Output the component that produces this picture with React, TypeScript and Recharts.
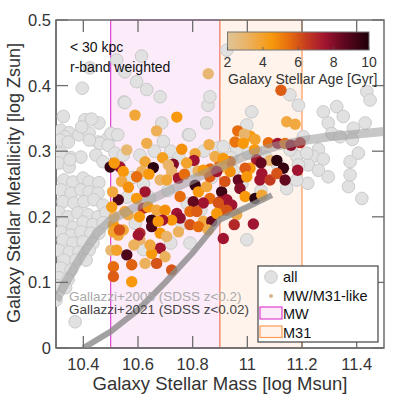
import { ScatterChart, Scatter, XAxis, YAxis, ReferenceArea } from 'recharts';

// "all" galaxies (grey)
const allMass = [
  10.318, 10.348, 10.384, 10.421, 10.457, 10.454, 10.49, 10.512, 10.318, 10.355, 10.391, 10.446, 10.472, 10.311, 10.348,
  10.329, 10.362, 10.399, 10.421, 10.457, 10.318, 10.355, 10.391, 10.421, 10.454, 10.326, 10.366, 10.402, 10.439, 10.472,
  10.311, 10.344, 10.38, 10.417, 10.454, 10.483, 10.326, 10.362, 10.399, 10.435, 10.472, 10.318, 10.355, 10.391, 10.428,
  10.457, 10.326, 10.362, 10.399, 10.435, 10.311, 10.348, 10.384, 10.421, 10.329, 10.373, 10.41, 10.318, 10.355, 10.311,
  10.344, 10.3, 10.37, 10.305, 10.335,
  10.613, 10.522, 10.552, 10.424, 10.595, 10.632, 10.681, 10.396, 10.549, 10.327, 10.406, 10.43, 10.394, 10.333, 10.315,
  10.345, 10.461, 10.491, 10.422, 10.351, 10.516, 10.693, 10.784, 10.717,
  10.552, 10.856, 10.687, 10.851, 10.788, 10.607, 10.546, 10.893, 10.79, 10.501, 10.526,
  10.863, 10.925, 11.016, 10.998, 11.187, 11.156, 11.278, 11.327, 11.437, 11.449,
  11.351, 11.296, 11.388, 11.431, 11.309, 11.339, 11.384, 11.205, 11.26, 11.241, 11.278, 11.406, 11.376, 11.223, 11.26,
  11.296, 11.181, 11.221, 11.181, 11.144, 11.37, 11.419, 10.998, 11.162, 11.187, 11.217, 11.156, 10.912, 10.961, 11.004,
  11.376,
  10.58, 10.62, 10.66, 10.72, 10.75, 10.8, 10.84, 10.87, 10.94, 11.03, 11.07, 11.11, 10.56, 10.64, 10.71, 10.78, 10.83,
  10.59, 10.72, 10.76, 10.62, 10.98, 11.05, 10.95,
];
const allZ = [
  0.332, 0.328, 0.325, 0.328, 0.343, 0.314, 0.32, 0.325, 0.297, 0.29, 0.291, 0.294, 0.284, 0.282, 0.276,
  0.256, 0.253, 0.259, 0.253, 0.252, 0.241, 0.236, 0.241, 0.238, 0.236, 0.223, 0.221, 0.223, 0.226, 0.218,
  0.207, 0.2, 0.206, 0.203, 0.2, 0.206, 0.191, 0.184, 0.192, 0.188, 0.191, 0.177, 0.172, 0.177, 0.175,
  0.175, 0.165, 0.16, 0.162, 0.16, 0.149, 0.146, 0.146, 0.149, 0.134, 0.134, 0.134, 0.122, 0.119, 0.107,
  0.104, 0.073, 0.04, 0.095, 0.092,
  0.445, 0.439, 0.421, 0.427, 0.406, 0.394, 0.383, 0.396, 0.375, 0.353, 0.348, 0.349, 0.337, 0.322, 0.317,
  0.314, 0.312, 0.309, 0.317, 0.287, 0.297, 0.315, 0.325, 0.282,
  0.374, 0.37, 0.343, 0.343, 0.325, 0.294, 0.294, 0.305, 0.16, 0.327, 0.325,
  0.383, 0.454, 0.36, 0.34, 0.37, 0.386, 0.36, 0.368, 0.391, 0.378,
  0.353, 0.343, 0.335, 0.343, 0.327, 0.322, 0.318, 0.322, 0.303, 0.292, 0.288, 0.297, 0.284, 0.279, 0.271,
  0.261, 0.292, 0.251, 0.256, 0.243, 0.246, 0.228, 0.165, 0.307, 0.279, 0.297, 0.302, 0.307, 0.302, 0.297,
  0.264,
  0.26, 0.25, 0.3, 0.3, 0.29, 0.27, 0.3, 0.26, 0.29, 0.3, 0.29, 0.28, 0.23, 0.23, 0.24, 0.22, 0.21,
  0.19, 0.16, 0.19, 0.15, 0.25, 0.24, 0.27,
];

// MW/M31-like galaxies, coloured by stellar age [Gyr]
const likeMass = [
  10.589, 10.742, 10.668, 10.632, 10.559, 10.76, 10.809, 10.498, 10.534, 10.513, 10.626, 10.656, 10.729, 10.805, 10.778,
  10.546, 10.614, 10.595, 10.723, 10.681, 10.705, 10.54, 10.748, 10.626, 10.809, 10.821, 10.851, 10.863, 10.839, 10.802,
  10.754, 10.79, 10.528, 10.595, 10.552, 10.619, 10.637, 10.668, 10.699, 10.742, 10.754, 10.723, 10.65, 10.79, 10.839,
  10.87, 10.51, 10.546, 10.607, 10.681, 10.748, 10.607, 10.681, 10.65, 10.559, 10.699, 10.626, 10.668, 10.577, 10.723,
  10.51, 10.51, 10.577, 10.501, 10.528, 10.51, 10.601, 10.644, 10.65, 10.705, 10.821, 10.9, 10.906, 10.9, 10.912,
  10.912, 11.144, 11.175, 10.965, 11.01, 10.989, 10.955, 10.985, 11.028, 11.077, 11.111, 11.138, 11.16, 11.193, 11.026,
  11.083, 11.108, 11.132, 11.184, 11.034, 11.05, 11.01, 11.053, 11.046, 11.083, 11.108, 11.138, 10.992, 10.937, 10.937,
  10.906, 10.967, 10.998, 10.918, 10.973, 10.925, 10.943, 10.992, 11.028, 11.053, 10.894, 10.925, 10.961, 10.952, 11.022,
  11.123, 10.857, 10.882, 10.912, 10.864, 10.507, 10.513, 10.605, 10.532, 10.69, 10.585, 10.565, 10.64, 10.69, 10.77,
  10.82, 10.86, 10.504, 10.564, 10.522, 10.711, 10.839, 10.863, 10.888, 10.674, 10.815, 10.888, 10.857,
];
const likeZ = [
  0.355, 0.352, 0.331, 0.312, 0.302, 0.303, 0.296, 0.276, 0.276, 0.282, 0.284, 0.275, 0.28, 0.286, 0.282,
  0.269, 0.269, 0.261, 0.269, 0.256, 0.256, 0.254, 0.259, 0.238, 0.248, 0.238, 0.246, 0.228, 0.221, 0.223,
  0.231, 0.208, 0.226, 0.228, 0.208, 0.213, 0.215, 0.21, 0.21, 0.205, 0.198, 0.195, 0.195, 0.188, 0.193,
  0.193, 0.188, 0.18, 0.175, 0.175, 0.177, 0.165, 0.152, 0.144, 0.142, 0.139, 0.129, 0.129, 0.127, 0.119,
  0.124, 0.109, 0.101, 0.149, 0.172, 0.177, 0.172, 0.157, 0.185, 0.17, 0.185, 0.282, 0.238, 0.223, 0.21,
  0.167, 0.345, 0.341, 0.331, 0.323, 0.326, 0.314, 0.312, 0.318, 0.313, 0.312, 0.312, 0.309, 0.313, 0.302,
  0.286, 0.286, 0.274, 0.271, 0.287, 0.282, 0.274, 0.266, 0.256, 0.256, 0.266, 0.256, 0.274, 0.284, 0.269,
  0.276, 0.256, 0.261, 0.254, 0.243, 0.226, 0.218, 0.231, 0.228, 0.233, 0.221, 0.21, 0.203, 0.188, 0.189,
  0.393, 0.418, 0.292, 0.289, 0.273, 0.238, 0.2, 0.2, 0.18, 0.195, 0.157, 0.245, 0.265, 0.29, 0.265,
  0.27, 0.31, 0.215, 0.203, 0.149, 0.279, 0.271, 0.261, 0.269, 0.193, 0.208, 0.205, 0.18,
];
const likeAge = [
  3.8, 4.5, 3.3, 3.5, 2.8, 4.7, 3.8, 9.5, 7.5, 4.5, 3.8, 9.7, 8.0, 7.5, 4.0,
  4.5, 3.3, 5.5, 3.0, 3.0, 3.8, 3.7, 7.5, 7.5, 9.5, 4.5, 3.7, 5.5, 7.5, 8.5,
  5.5, 5.5, 9.0, 4.5, 3.7, 7.0, 4.5, 3.7, 4.7, 7.5, 7.8, 4.5, 9.5, 6.0, 3.7,
  8.5, 4.5, 3.7, 7.0, 4.5, 3.2, 3.0, 7.5, 4.5, 9.0, 3.2, 3.2, 6.0, 5.7, 6.0,
  5.5, 5.8, 4.5, 2.8, 3.7, 4.0, 7.5, 3.7, 9.0, 3.0, 5.5, 5.5, 9.3, 7.5, 5.5,
  7.5, 3.7, 3.7, 5.5, 4.5, 3.0, 5.3, 4.5, 4.0, 5.5, 7.5, 5.5, 7.8, 7.0, 4.5,
  3.0, 9.7, 9.5, 7.5, 7.3, 8.5, 4.5, 7.5, 7.5, 6.5, 6.0, 8.5, 5.8, 5.5, 4.7,
  3.8, 8.5, 4.5, 6.0, 8.0, 7.5, 7.5, 4.5, 9.7, 3.8, 6.0, 6.0, 3.5, 7.0, 7.5,
  5.8, 2.8, 3.5, 4.5, 5.5, 3.7, 3.0, 4.5, 6.0, 7.5, 3.2, 4.7, 4.5, 4.2, 5.5,
  3.2, 3.5, 4.3, 3.6, 4.0, 3.0, 4.5, 5.8, 7.5, 4.5, 5.8, 4.5, 3.5,
];

// literature relations
const g05Mass = [10.3, 10.35, 10.4, 10.45, 10.5, 10.6, 10.7, 10.8, 10.9, 11.0, 11.1, 11.2, 11.3, 11.4, 11.5];
const g05Z = [0.073, 0.11, 0.145, 0.175, 0.195, 0.217, 0.237, 0.257, 0.276, 0.294, 0.307, 0.316, 0.322, 0.326, 0.33];
const g21Mass = [10.4, 10.5, 10.6, 10.7, 10.8, 10.9, 11.0, 11.09];
const g21Z = [0, 0.025, 0.058, 0.1, 0.145, 0.196, 0.215, 0.233];

const massTicks = [10.4, 10.6, 10.8, 11, 11.2, 11.4];
const zTicks = [0, 0.1, 0.2, 0.3, 0.4, 0.5];
const ageTicks = [2, 4, 6, 8, 10];

const FONT = '"Liberation Sans", Arial, Helvetica, sans-serif';
const AXIS = '#6e6e6e';
const TXT = '#333';
const PLOT_W = 328;
const PLOT_H = 328;
const TICK = 12;

const AGE_STOPS: [number, number[]][] = [
  [2, [222, 196, 150]],
  [3, [234, 181, 106]],
  [4.5, [248, 153, 12]],
  [5.5, [230, 108, 14]],
  [6.5, [196, 58, 32]],
  [7.5, [160, 20, 48]],
  [8.5, [100, 8, 32]],
  [10, [30, 0, 10]],
];

function ageColor(a: number) {
  if (a <= AGE_STOPS[0][0]) return `rgb(${AGE_STOPS[0][1].join(',')})`;
  for (let i = 1; i < AGE_STOPS.length; i++) {
    const [a1, c1] = AGE_STOPS[i];
    const [a0, c0] = AGE_STOPS[i - 1];
    if (a <= a1) {
      const t = (a - a0) / (a1 - a0);
      const c = c0.map((v, k) => Math.round(v + (c1[k] - v) * t));
      return `rgb(${c.join(',')})`;
    }
  }
  return `rgb(${AGE_STOPS[AGE_STOPS.length - 1][1].join(',')})`;
}

const allPts = allMass.map((x, i) => ({ x, y: allZ[i] }));
const likePts = likeMass.map((x, i) => ({ x, y: likeZ[i], age: likeAge[i] }));
const g05 = g05Mass.map((x, i) => ({ x, y: g05Z[i] }));
const g21 = g21Mass.map((x, i) => ({ x, y: g21Z[i] }));

function MassTick({ x, y, payload }: any) {
  return (
    <g>
      <line x1={x} x2={x} y1={y} y2={y - TICK} stroke={AXIS} strokeWidth={1.3} />
      <line x1={x} x2={x} y1={y - PLOT_H} y2={y - PLOT_H + TICK} stroke={AXIS} strokeWidth={1.3} />
      <text x={x} y={y + 22} textAnchor="middle" fontSize={16.5} fill={TXT} fontFamily={FONT}>
        {String(payload.value)}
      </text>
    </g>
  );
}

function ZTick({ x, y, payload }: any) {
  return (
    <g>
      <line x1={x} x2={x + TICK} y1={y} y2={y} stroke={AXIS} strokeWidth={1.3} />
      <line x1={x + PLOT_W} x2={x + PLOT_W - TICK} y1={y} y2={y} stroke={AXIS} strokeWidth={1.3} />
      <text x={x - 5} y={y + 6} textAnchor="end" fontSize={16.5} fill={TXT} fontFamily={FONT}>
        {String(payload.value)}
      </text>
    </g>
  );
}

const GrayDot = (p: any) => <circle cx={p.cx} cy={p.cy} r={6.3} fill="#e1e1e1" stroke="#cacaca" strokeWidth={1} />;
const AgeDot = (p: any) => <circle cx={p.cx} cy={p.cy} r={5.7} fill={ageColor(p.payload.age)} />;
const NoDot = () => <g />;

function Overlay() {
  const cbX = 227.5;
  const cbW = 141.5;
  const ageX = (a: number) => cbX + ((a - 2) / 8) * cbW;
  return (
    <svg width={395} height={402} style={{ position: 'absolute', left: 0, top: 0, pointerEvents: 'none' }} fontFamily={FONT}>
      <defs>
        <linearGradient id="agegrad" x1="0" x2="1" y1="0" y2="0">
          {AGE_STOPS.map(([a, c]) => (
            <stop key={a} offset={(a - 2) / 8} stopColor={`rgb(${c.join(',')})`} />
          ))}
        </linearGradient>
      </defs>
      <text x={70} y={52} fontSize={14} fill="#111">&lt; 30 kpc</text>
      <text x={70} y={72} fontSize={14} fill="#111">r-band weighted</text>

      <rect x={cbX} y={32} width={cbW} height={18} fill="url(#agegrad)" stroke="#777" strokeWidth={1} />
      {ageTicks.map((a) => (
        <g key={a}>
          <line x1={ageX(a)} x2={ageX(a)} y1={50} y2={47} stroke="#555" strokeWidth={0.8} />
          <text x={ageX(a)} y={67} fontSize={14} textAnchor="middle" fill={TXT}>{a}</text>
        </g>
      ))}
      <text x={228} y={84} fontSize={14} fill={TXT}>Galaxy Stellar Age [Gyr]</text>

      <text x={69} y={300.5} fontSize={13.5} fill="#aaaaaa">Gallazzi+2005 (SDSS z&lt;0.2)</text>
      <text x={69} y={314} fontSize={13.5} fill="#444">Gallazzi+2021 (SDSS z&lt;0.02)</text>

      <rect x={258} y={266} width={120} height={76} fill="#fff" stroke="#444" strokeWidth={1.2} />
      <circle cx={271} cy={277} r={6.3} fill="#e1e1e1" stroke="#cacaca" strokeWidth={1} />
      <text x={283} y={282} fontSize={14.5} fill="#111">all</text>
      <circle cx={271} cy={296} r={2} fill="#d8b68a" />
      <text x={283} y={301} fontSize={14.5} fill="#111">MW/M31-like</text>
      <rect x={260} y={307} width={22} height={12} fill="#fcecf9" stroke="#e040d0" strokeWidth={1.2} />
      <text x={283} y={319} fontSize={14.5} fill="#111">MW</text>
      <rect x={260} y={326} width={22} height={11.5} fill="#fff3ec" stroke="#ff9955" strokeWidth={1.2} />
      <text x={283} y={337.5} fontSize={14.5} fill="#111">M31</text>

      <text x={220} y={390} fontSize={18.5} textAnchor="middle" fill={TXT}>Galaxy Stellar Mass [log Msun]</text>
      <text x={0} y={0} fontSize={18} textAnchor="middle" fill={TXT} transform="translate(20,183) rotate(-90)">
        Galaxy Stellar Metallicity [log Zsun]
      </text>
    </svg>
  );
}

export default function App() {
  return (
    <div style={{ position: 'relative', width: 395, height: 402, background: '#fff' }}>
      <style>{'body{margin:0}'}</style>
      <ScatterChart width={395} height={402} margin={{ top: 20, right: 11, bottom: 0, left: 0 }}>
        <XAxis
          type="number"
          dataKey="x"
          domain={[10.3, 11.5]}
          ticks={massTicks}
          tick={(p: any) => <MassTick {...p} />}
          tickSize={0}
          tickMargin={0}
          tickLine={false}
          axisLine={{ stroke: AXIS, strokeWidth: 1.5 }}
          height={54}
          allowDataOverflow
          interval={0}
        />
        <YAxis
          type="number"
          dataKey="y"
          domain={[0, 0.5]}
          ticks={zTicks}
          tick={(p: any) => <ZTick {...p} />}
          tickSize={0}
          tickMargin={0}
          tickLine={false}
          axisLine={{ stroke: AXIS, strokeWidth: 1.5 }}
          width={56}
          allowDataOverflow
          interval={0}
        />
        <ReferenceArea x1={10.5} x2={10.9} y1={0} y2={0.5} fill="#fcecf9" fillOpacity={1} stroke="#e040d0" strokeWidth={1.2} />
        <ReferenceArea x1={10.9} x2={11.2} y1={0} y2={0.5} fill="#fff3ec" fillOpacity={1} stroke="#ff9955" strokeWidth={1.2} />
        <Scatter data={allPts} shape={GrayDot} isAnimationActive={false} />
        <Scatter data={likePts} shape={AgeDot} isAnimationActive={false} />
        <Scatter
          data={g05}
          shape={NoDot}
          line={{ stroke: '#999', strokeWidth: 9, strokeOpacity: 0.55 }}
          lineType="joint"
          isAnimationActive={false}
        />
        <Scatter
          data={g21}
          shape={NoDot}
          line={{ stroke: '#8a8a8a', strokeWidth: 6, strokeOpacity: 0.8 }}
          lineType="joint"
          isAnimationActive={false}
        />
        <ReferenceArea x1={10.3} x2={11.5} y1={0} y2={0.5} fill="none" stroke={AXIS} strokeWidth={1.5} />
      </ScatterChart>
      <Overlay />
    </div>
  );
}
